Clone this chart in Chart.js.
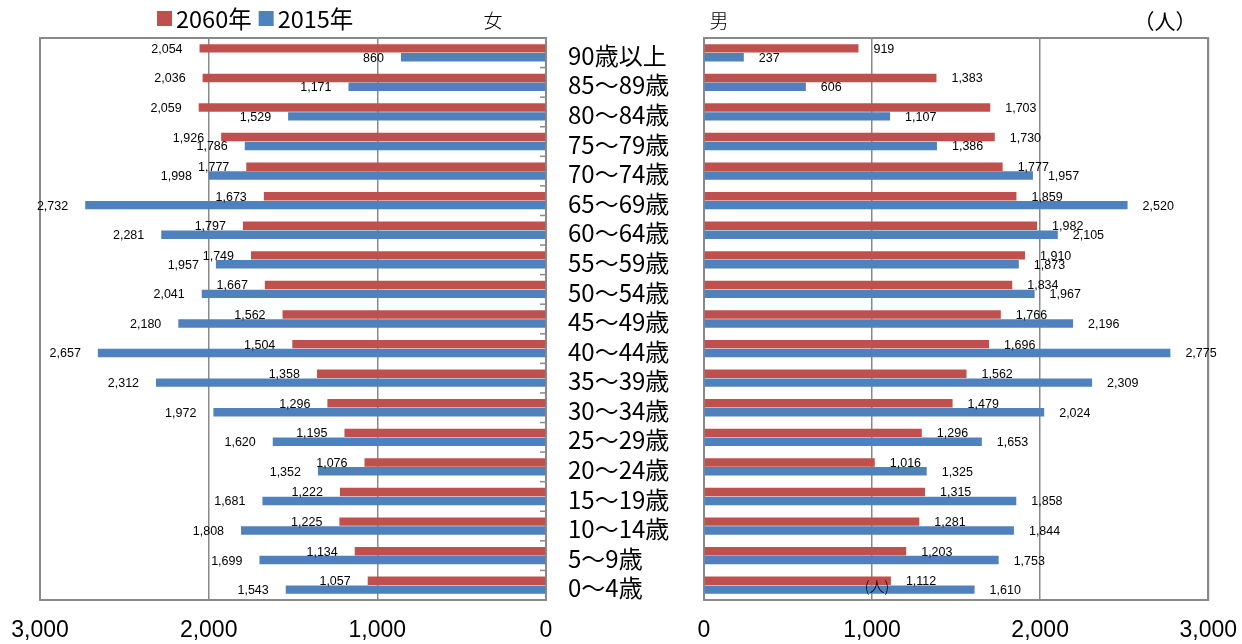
<!DOCTYPE html>
<html>
<head>
<meta charset="utf-8">
<script src="https://cdn.jsdelivr.net/npm/chart.js@4/dist/chart.umd.min.js"></script>
<style>
  html,body{margin:0;padding:0;background:#fff;}
  #wrap{position:relative;width:1242px;height:644px;overflow:hidden;background:#fff;}
  #cl{position:absolute;left:0;top:0;}
  #cr{position:absolute;left:680px;top:0;}
</style>
</head>
<body>
<div id="wrap">
  <canvas id="cl" width="704" height="644"></canvas>
  <canvas id="cr" width="574" height="644"></canvas>
</div>
<script>
const categories = ['90歳以上','85～89歳','80～84歳','75～79歳','70～74歳','65～69歳','60～64歳','55～59歳','50～54歳','45～49歳','40～44歳','35～39歳','30～34歳','25～29歳','20～24歳','15～19歳','10～14歳','5～9歳','0～4歳'];
const seriesNames = ['2060年','2015年'];
const female2060 = [2054,2036,2059,1926,1777,1673,1797,1749,1667,1562,1504,1358,1296,1195,1076,1222,1225,1134,1057];
const female2015 = [860,1171,1529,1786,1998,2732,2281,1957,2041,2180,2657,2312,1972,1620,1352,1681,1808,1699,1543];
const male2060 = [919,1383,1703,1730,1777,1859,1982,1910,1834,1766,1696,1562,1479,1296,1016,1315,1281,1203,1112];
const male2015 = [237,606,1107,1386,1957,2520,2105,1873,1967,2196,2775,2309,2024,1653,1325,1858,1844,1753,1610];
const xTicks = [0,1000,2000,3000];

const RED = '#C0504D', BLUE = '#4F81BD', GRID = '#898989';
const CJK = '"Noto Sans CJK JP","Noto Sans",sans-serif';

const framePlugin = {
  id:'frame',
  beforeDatasetsDraw(chart, args, opts){
    const {ctx, chartArea:a} = chart;
    ctx.save();
    ctx.strokeStyle = GRID; ctx.lineWidth = 2;
    ctx.strokeRect(a.left, a.top, a.right-a.left, a.bottom-a.top);
    if (opts.innerTicks){
      const y = chart.scales.y;
      ctx.lineWidth = 1.5;
      for (let i=1;i<categories.length;i++){
        const p = (y.getPixelForTick(i-1)+y.getPixelForTick(i))/2;
        ctx.beginPath(); ctx.moveTo(a.right-6,p); ctx.lineTo(a.right,p); ctx.stroke();
      }
    }
    ctx.restore();
  }
};

const valuePlugin = {
  id:'vals',
  afterDatasetsDraw(chart, args, opts){
    const ctx = chart.ctx;
    ctx.save();
    ctx.font = opts.font;
    ctx.fillStyle = '#000';
    ctx.textBaseline = 'middle';
    chart.data.datasets.forEach((ds,i)=>{
      const meta = chart.getDatasetMeta(i);
      meta.data.forEach((bar,j)=>{
        const txt = ds.data[j].toLocaleString('en-US');
        if (opts.side === 'left'){ ctx.textAlign='right'; ctx.fillText(txt, bar.x - opts.gap, bar.y+1); }
        else { ctx.textAlign='left'; ctx.fillText(txt, bar.x + opts.gap, bar.y+1); }
      });
    });
    ctx.restore();
  }
};

const textPlugin = {
  id:'texts',
  afterDraw(chart, args, opts){
    const ctx = chart.ctx;
    ctx.save();
    (opts.items||[]).forEach(t=>{
      ctx.font = t.font; ctx.fillStyle = '#000';
      ctx.textAlign = t.align||'left'; ctx.textBaseline='middle';
      ctx.fillText(t.text, t.x, t.y);
    });
    if (opts.legend){
      ctx.font = '23.5px ' + CJK;
      ctx.textBaseline = 'middle';
      ctx.textAlign = 'left';
      let x = opts.legend.x;
      chart.data.datasets.forEach(ds=>{
        ctx.fillStyle = ds.backgroundColor;
        ctx.fillRect(x, 11, 15, 15);
        ctx.fillStyle = '#000';
        ctx.fillText(ds.label, x+19, 19);
        x += 19 + ctx.measureText(ds.label).width + 7;
      });
    }
    ctx.restore();
  }
};

function xScale(reverse){
  return {
    type:'linear', min:0, max:3000, reverse:reverse,
    afterBuildTicks(s){ s.ticks = xTicks.map(v=>({value:v})); },
    afterFit(s){ s.height = 42; },
    grid:{color:GRID, lineWidth:1.5, drawTicks:false},
    border:{display:true,color:GRID,width:2},
    ticks:{color:'#000', font:{family:'"Liberation Sans", Arial, sans-serif', size:23}, padding:17,
      callback:v=>v.toLocaleString('en-US')}
  };
}

function datasets(a,b){
  return [
    {label:seriesNames[0], data:a, backgroundColor:RED, categoryPercentage:0.6, barPercentage:0.95},
    {label:seriesNames[1], data:b, backgroundColor:BLUE, categoryPercentage:0.6, barPercentage:0.95}
  ];
}

new Chart(document.getElementById('cl'), {
  type:'bar',
  data:{labels:categories, datasets:datasets(female2060,female2015)},
  options:{
    indexAxis:'y', responsive:false, animation:false,
    layout:{padding:{left:40, top:38, right:0, bottom:2}},
    plugins:{
      legend:{display:false}, tooltip:{enabled:false},
      frame:{innerTicks:true},
      vals:{side:'left', gap:17, font:'12.5px "Liberation Sans", Arial, sans-serif'},
      texts:{legend:{x:157}, items:[{text:'女', x:493, y:21, font:'300 19px '+CJK, align:'center'}]}
    },
    scales:{
      x:xScale(true),
      y:{
        position:'right',
        afterFit(s){ s.width = 158; },
        grid:{display:false, drawTicks:false},
        border:{display:false},
        ticks:{color:'#000', font:{family:CJK, size:24}, crossAlign:'near', padding:22, labelOffset:3, autoSkip:false}
      }
    }
  },
  plugins:[framePlugin, valuePlugin, textPlugin]
});

new Chart(document.getElementById('cr'), {
  type:'bar',
  data:{labels:categories, datasets:datasets(male2060,male2015)},
  options:{
    indexAxis:'y', responsive:false, animation:false,
    layout:{padding:{left:24, top:38, right:0, bottom:2}},
    plugins:{
      legend:{display:false}, tooltip:{enabled:false},
      frame:{innerTicks:false},
      vals:{side:'right', gap:15, font:'12.5px "Liberation Sans", Arial, sans-serif'},
      texts:{items:[
        {text:'男', x:39, y:21, font:'300 19px '+CJK, align:'center'},
        {text:'（人）', x:485, y:21, font:'21px '+CJK, align:'center'},
        {text:'(人)', x:197, y:586, font:'300 15px '+CJK, align:'center'}
      ]}
    },
    scales:{
      x:xScale(false),
      y:{display:false}
    }
  },
  plugins:[framePlugin, valuePlugin, textPlugin]
});
</script>
</body>
</html>
